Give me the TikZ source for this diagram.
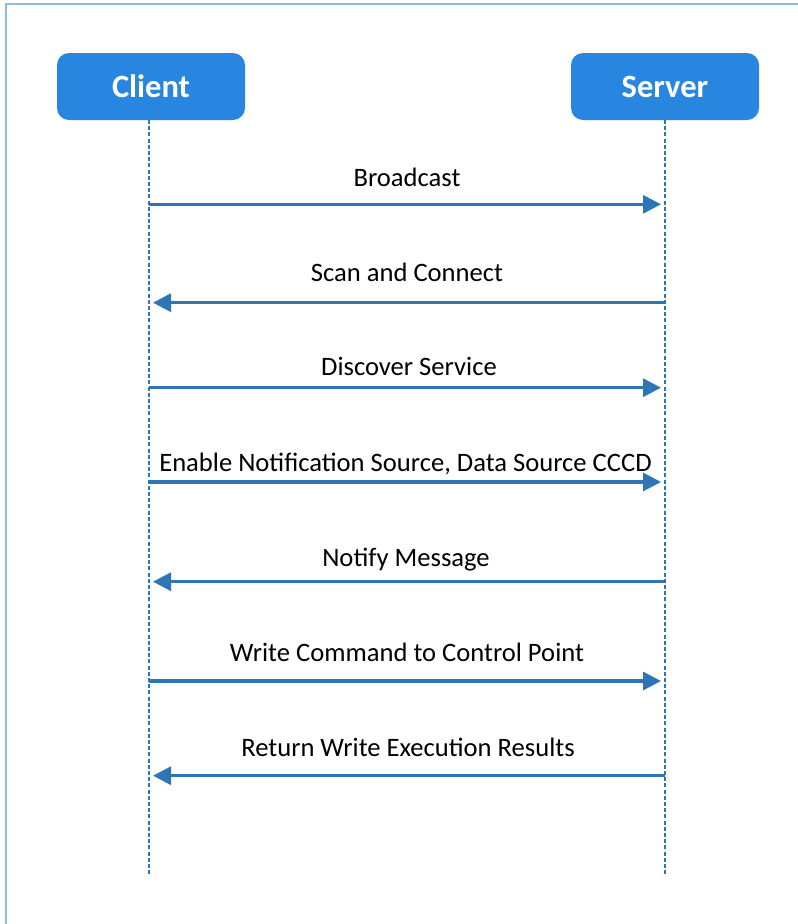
\documentclass[tikz,border=0pt]{standalone}
\usepackage{fontspec}
\setmainfont{Carlito}
\usetikzlibrary{arrows.meta}
\definecolor{boxblue}{RGB}{41,134,224}
\definecolor{lineblue}{RGB}{46,117,182}
\definecolor{frameblue}{RGB}{140,186,228}
\tikzset{
  actor/.style={draw=none, fill=boxblue, rounded corners=12pt, minimum width=188pt, minimum height=67pt, text=white, font=\fontsize{32.5}{38}\selectfont\bfseries, inner sep=0pt},
  lifeline/.style={draw=lineblue, line width=2.6pt, dash pattern=on 4pt off 2.2pt},
  msg/.style={draw=lineblue, line width=3.1pt, -{Triangle[length=18pt,width=18pt]}, shorten >=4pt},
  lbl/.style={anchor=base, inner sep=0pt, font=\fontsize{26.6}{30}\selectfont, text=black},
  frameline/.style={draw=frameblue, line width=2.4pt}
}
\begin{document}
\begin{tikzpicture}[x=1pt,y=-1pt]
\useasboundingbox (0,0) rectangle (798,924);
\fill[white] (0,0) rectangle (798,924);
\coordinate (fTL) at (6,4);
\coordinate (fTR) at (798,4);
\coordinate (fBL) at (6,924);
\draw[frameline] (fTR) -- (fTL) -- (fBL);

\node[actor] (client) at (151,86.5) {Client};
\node[actor] (server) at (665,86.5) {Server};

\coordinate (ctop) at (149,120);
\coordinate (cbot) at (149,876);
\coordinate (stop) at (665,120);
\coordinate (sbot) at (665,876);
\draw[lifeline] (ctop) -- (cbot);
\draw[lifeline] (stop) -- (sbot);

\foreach \n/\y in {1/204.3,2/302.7,3/387.7,4/482,5/581.7,6/681,7/775.7}{
  \coordinate (c\n) at (149,\y);
  \coordinate (s\n) at (665,\y);
}
\draw[msg] (c1) -- (s1);
\draw[msg] (s2) -- (c2);
\draw[msg] (c3) -- (s3);
\draw[msg] (c4) -- (s4);
\draw[msg] (s5) -- (c5);
\draw[msg] (c6) -- (s6);
\draw[msg] (s7) -- (c7);

\node[lbl] (l1) at (407,186.7) {Broadcast};
\node[lbl] (l2) at (407,281.7) {Scan and Connect};
\node[lbl] (l3) at (409,375) {Discover Service};
\node[lbl] (l4) at (405.5,471) {Enable Notification Source, Data Source CCCD};
\node[lbl] (l5) at (406,566) {Notify Message};
\node[lbl] (l6) at (407,661.7) {Write Command to Control Point};
\node[lbl] (l7) at (408,756) {Return Write Execution Results};
\end{tikzpicture}
\end{document}
